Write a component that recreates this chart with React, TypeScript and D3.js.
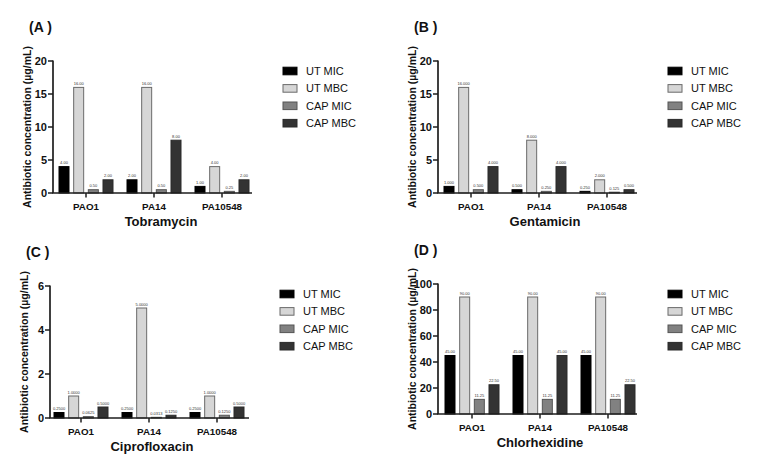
import * as d3 from 'd3';

const strains = ['PAO1', 'PA14', 'PA10548'];
const seriesNames = ['UT MIC', 'UT MBC', 'CAP MIC', 'CAP MBC'];

// values per strain, in series order
const tobramycin = [[4, 16, 0.5, 2], [2, 16, 0.5, 8], [1, 4, 0.25, 2]];
const gentamicin = [[1, 16, 0.5, 4], [0.5, 8, 0.25, 4], [0.25, 2, 0.125, 0.5]];
const ciprofloxacin = [[0.25, 1, 0.0625, 0.5], [0.25, 5, 0.03125, 0.125], [0.25, 1, 0.125, 0.5]];
const chlorhexidine = [[45, 90, 11.25, 22.5], [45, 90, 11.25, 45], [45, 90, 11.25, 22.5]];

const ticks20 = [0, 5, 10, 15, 20];
const ticks6 = [0, 2, 4, 6];
const ticks100 = [0, 20, 40, 60, 80, 100];

const fills = ['#000000', '#d6d6d6', '#818181', '#333333'];
const strokes = ['#000000', '#6a6a6a', '#555555', '#2a2a2a'];

const FONT = '"Liberation Sans", Arial, Helvetica, sans-serif';
const AXIS = '#1e1e1e';

interface PanelProps {
  letter: string;
  drug: string;
  values: number[][];
  ticks: number[];
  decimals: number;
  left: number;
  top: number;
  bottom: number;
  titleX: number;
  bandShift: number;
  legendTop: number;
}

function Panel({ letter, drug, values, ticks, decimals, left, top, bottom, titleX, bandShift, legendTop }: PanelProps) {
  const right = left + 199;
  const y = d3.scaleLinear().domain([0, ticks[ticks.length - 1]]).range([bottom, top]);
  const x = d3.scaleBand().domain(strains).range([left + bandShift, left + bandShift + 204]);
  const inner = d3.scaleBand().domain(seriesNames).range([-27, 27]).paddingInner(0.318);
  const legendX = left + 230;

  return (
    <g fontFamily={FONT}>
      <text x={left - 24} y={top - 29} fontSize={14} fontWeight="bold" fill="#111">
        {letter}
      </text>

      {/* y axis */}
      <line x1={left} x2={left} y1={top - 0.5} y2={bottom} stroke={AXIS} strokeWidth={1.7} />
      {ticks.map(t => (
        <g key={t}>
          <line x1={left - 5} x2={left} y1={y(t)} y2={y(t)} stroke={AXIS} strokeWidth={1.5} />
          <text x={left - 6} y={y(t) + 3.9} fontSize={11} fontWeight="bold" textAnchor="end" fill="#111">
            {t}
          </text>
        </g>
      ))}
      <text
        transform={`translate(${left - 22},${(top + bottom) / 2}) rotate(-90)`}
        fontSize={10.5}
        fontWeight="bold"
        textAnchor="middle"
        fill="#111"
      >
        Antibiotic concentration (µg/mL)
      </text>

      {/* bars */}
      {strains.map((s, i) =>
        seriesNames.map((name, j) => {
          const v = values[i][j];
          const bx = (x(s) ?? 0) + x.bandwidth() / 2 + (inner(name) ?? 0);
          return (
            <g key={s + name}>
              <rect
                x={bx}
                y={y(v)}
                width={inner.bandwidth()}
                height={bottom - y(v)}
                fill={fills[j]}
                stroke={strokes[j]}
                strokeWidth={1}
              />
              <text
                x={bx + inner.bandwidth() / 2}
                y={y(v) - 2.5}
                fontSize={4}
                textAnchor="middle"
                fill="#333"
              >
                {v.toFixed(decimals)}
              </text>
            </g>
          );
        })
      )}

      {/* x axis */}
      <line x1={left - 0.8} x2={right} y1={bottom} y2={bottom} stroke={AXIS} strokeWidth={1.7} />
      {strains.map(s => {
        const cx = (x(s) ?? 0) + x.bandwidth() / 2;
        return (
          <g key={s}>
            <line x1={cx} x2={cx} y1={bottom} y2={bottom + 4.5} stroke={AXIS} strokeWidth={1.5} />
            <text x={cx} y={bottom + 17} fontSize={9.8} fontWeight="bold" textAnchor="middle" fill="#111">
              {s}
            </text>
          </g>
        );
      })}
      <text x={titleX} y={bottom + 33} fontSize={13} fontWeight="bold" textAnchor="middle" fill="#111">
        {drug}
      </text>

      {/* legend */}
      {seriesNames.map((name, j) => (
        <g key={name} transform={`translate(${legendX},${legendTop + j * 17.4})`}>
          <rect x={0} y={-3.8} width={14} height={7.6} fill={fills[j]} stroke={strokes[j]} strokeWidth={1} />
          <text x={23} y={4} fontSize={11} fill="#111">
            {name}
          </text>
        </g>
      ))}
    </g>
  );
}

export default function App() {
  return (
    <svg
      width={762}
      height={476}
      viewBox="0 0 762 476"
      style={{ position: 'absolute', left: 0, top: 0, background: '#fff' }}
    >
      <rect width={762} height={476} fill="#fff" />
      <Panel letter="(A )" drug="Tobramycin" values={tobramycin} ticks={ticks20} decimals={2}
        left={53} top={61} bottom={193} titleX={161} bandShift={-1} legendTop={71} />
      <Panel letter="(B )" drug="Gentamicin" values={gentamicin} ticks={ticks20} decimals={3}
        left={438} top={61} bottom={193} titleX={545} bandShift={-1} legendTop={71} />
      <Panel letter="(C )" drug="Ciprofloxacin" values={ciprofloxacin} ticks={ticks6} decimals={4}
        left={50} top={286} bottom={418} titleX={152} bandShift={-3} legendTop={294} />
      <Panel letter="(D )" drug="Chlorhexidine" values={chlorhexidine} ticks={ticks100} decimals={2}
        left={438} top={284} bottom={414} titleX={540} bandShift={0} legendTop={294} />
    </svg>
  );
}
